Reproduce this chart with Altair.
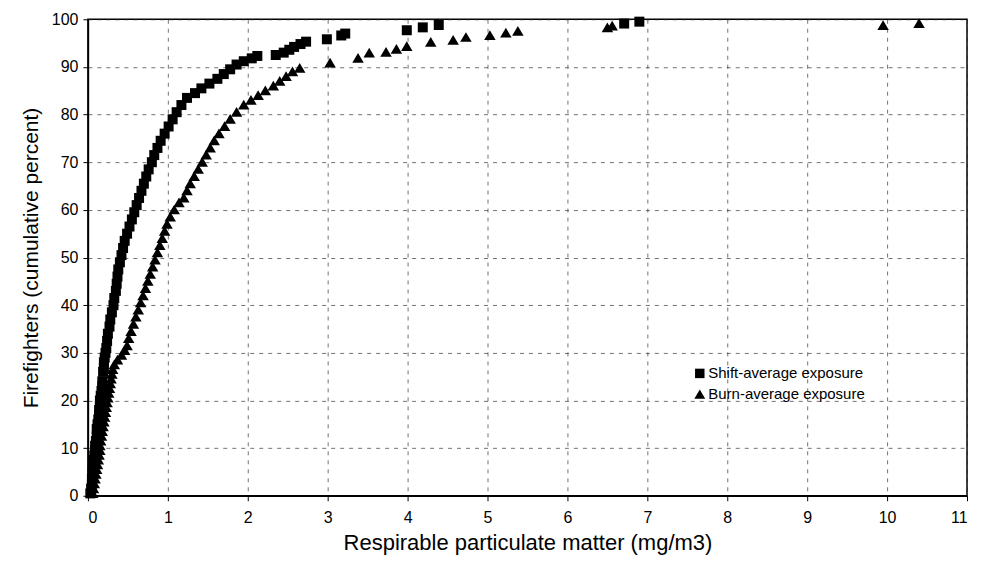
import altair as alt
import pandas as pd

# Shift-average exposure (mg/m3) and cumulative percent
shift_x = [0.03,0.04,0.05,0.05,0.06,0.06,0.07,0.07,0.08,0.09,0.09,0.10,0.11,0.11,0.12,0.13,0.14,0.14,0.15,0.15,
           0.16,0.17,0.18,0.18,0.19,0.20,0.20,0.21,0.22,0.23,0.24,0.25,0.27,0.28,0.30,0.32,0.33,0.35,0.36,0.37,
           0.38,0.40,0.42,0.44,0.46,0.49,0.52,0.55,0.58,0.61,0.64,0.67,0.70,0.73,0.76,0.80,0.83,0.87,0.91,0.96,
           1.01,1.06,1.11,1.17,1.24,1.34,1.42,1.52,1.62,1.70,1.78,1.86,1.95,2.05,2.12,2.35,2.45,2.52,2.58,2.66,
           2.73,2.99,3.17,3.22,3.99,4.19,4.39,6.71,6.90]
shift_p = [0.5,1.5,2.5,3.5,4.5,5.5,6.5,7.5,8.5,9.5,10.5,11.5,12.5,14,15,16,17,18,19,20,
           21,22,23,24,26,27,28,29,30,31,32.5,34,35.5,37,38.5,40,41.5,43,44.5,46,
           47.5,49,50.5,52,53.5,55,56.5,58,59.5,61,62.5,64,65.5,67,68.5,70,71.5,73,74.5,76,
           77.5,79,80.5,82,83.5,84.5,85.5,86.5,87.5,88.5,89.5,90.5,91.2,91.8,92.3,92.5,93,93.6,94.2,94.8,
           95.3,95.8,96.6,97,97.7,98.3,98.8,99.1,99.5]

# Burn-average exposure (mg/m3) and cumulative percent
burn_x = [0.06,0.07,0.08,0.09,0.10,0.11,0.12,0.13,0.14,0.15,0.15,0.16,0.17,0.18,0.19,0.20,0.21,0.22,0.23,0.24,
          0.25,0.26,0.27,0.28,0.29,0.30,0.31,0.33,0.37,0.42,0.46,0.49,0.51,0.54,0.57,0.60,0.63,0.66,0.69,0.72,
          0.75,0.78,0.81,0.84,0.87,0.90,0.93,0.96,0.99,1.03,1.08,1.14,1.20,1.24,1.28,1.33,1.38,1.43,1.48,1.53,
          1.58,1.64,1.71,1.78,1.86,1.95,2.04,2.13,2.22,2.32,2.40,2.48,2.56,2.65,3.03,3.38,3.52,3.73,3.86,3.99,
          4.29,4.57,4.73,5.03,5.23,5.38,6.50,6.56,9.95,10.40]
burn_p = [0.5,1.5,2.5,3.5,4.5,5.5,6.5,7.5,8.5,9.5,10.5,11.5,12.5,13.5,14.5,15.5,16.5,17.5,18.5,19.5,
          20.5,21.5,22.5,23.5,24.5,25.5,26.5,27.5,28.5,29.5,30.5,31.5,33,34.5,36,37.5,39,40.5,42,43.5,
          45,46.5,48,49.5,51,52.5,54,55.5,57,58.5,60,61.5,62.5,64,65.5,67,68.5,70,71.5,73,
          74.5,76,77.5,79,80.5,82,83,84,85,86,87,88,89,89.7,90.8,91.8,92.9,93.1,93.7,94.3,
          95.2,95.6,96.2,96.6,97.1,97.5,98.2,98.6,98.7,99.1]

series_names = ["Shift-average exposure", "Burn-average exposure"]
x_ticks = list(range(0, 12))
y_ticks = list(range(0, 101, 10))

df = pd.concat([
    pd.DataFrame({"x": shift_x, "p": shift_p, "series": series_names[0]}),
    pd.DataFrame({"x": burn_x, "p": burn_p, "series": series_names[1]}),
])

FONT = "Liberation Sans"
TRIANGLE = "M0,-1.05L1.15,0.9L-1.15,0.9Z"

chart = alt.Chart(df).mark_point(filled=True, opacity=1, color="black", size=100).encode(
    x=alt.X("x:Q", scale=alt.Scale(domain=[0, 11], nice=False),
            axis=alt.Axis(values=x_ticks, title="Respirable particulate matter (mg/m3)",
                          format="d", labelPadding=9, titlePadding=7, tickSize=5,
                          titleFontSize=22)),
    y=alt.Y("p:Q", scale=alt.Scale(domain=[0, 100], nice=False),
            axis=alt.Axis(values=y_ticks, title="Firefighters (cumulative percent)",
                          format="d", labelPadding=5, titlePadding=10, tickSize=5,
                          titleFontSize=21)),
    shape=alt.Shape("series:N",
                    scale=alt.Scale(domain=series_names, range=["square", TRIANGLE]),
                    legend=alt.Legend(title=None, orient="none", legendX=605, legendY=347,
                                      labelFontSize=15, labelFont=FONT, labelLimit=400,
                                      symbolSize=90,
                                      symbolFillColor="black", symbolStrokeColor="black",
                                      labelColor="black", labelOffset=1, rowPadding=4)),
).properties(
    width=880, height=477,
    autosize=alt.AutoSizeParams(type="none"),
    padding={"left": 80, "top": 11, "right": 10, "bottom": 60},
).configure_view(
    stroke="black", strokeWidth=1.5
).configure_axis(
    grid=True, gridColor="#222", gridDash=[4, 5], gridWidth=0.8, gridOpacity=0.8,
    domainColor="black", domainWidth=1.5, tickColor="black",
    labelFont=FONT, titleFont=FONT, labelFontSize=16,
    labelColor="black", titleColor="black", titleFontWeight="normal",
)

chart.save("out.html", embed_options={"renderer": "svg", "actions": False})
